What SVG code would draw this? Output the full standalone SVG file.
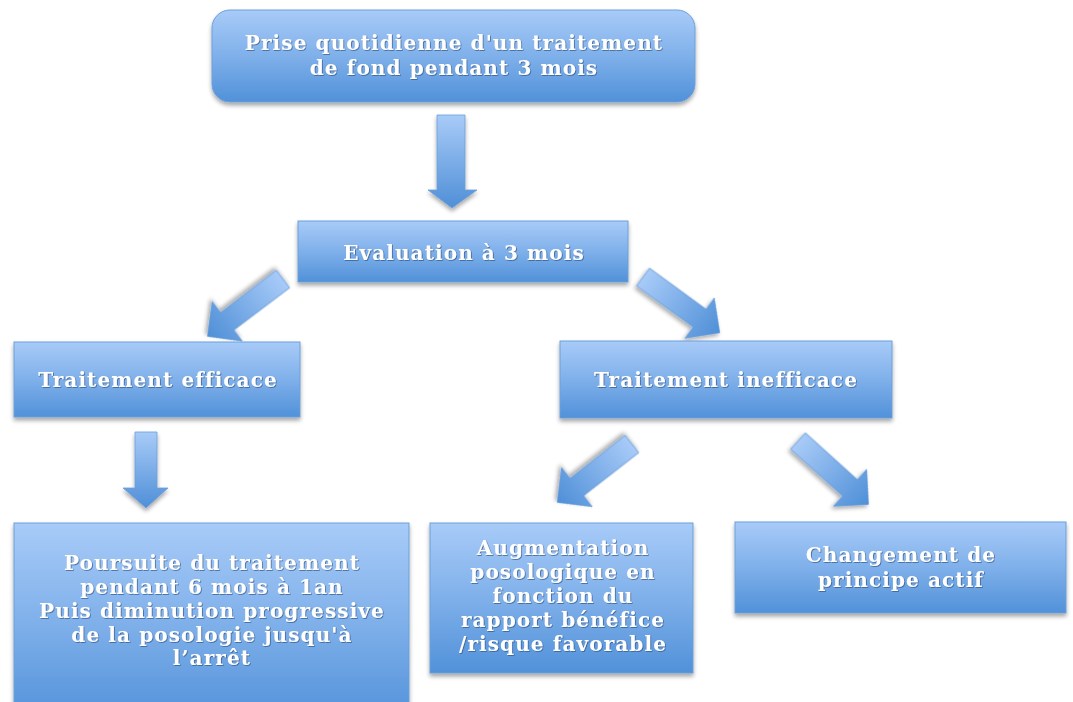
<svg xmlns="http://www.w3.org/2000/svg" width="1073" height="702" viewBox="0 0 1073 702">
<defs>
<linearGradient id="gBox" x1="0" y1="0" x2="0" y2="1">
<stop offset="0" stop-color="#a8cbf8"/>
<stop offset="0.5" stop-color="#7fb0ea"/>
<stop offset="1" stop-color="#5191d9"/>
</linearGradient>
<linearGradient id="gArrV" x1="0" y1="0" x2="0" y2="1">
<stop offset="0" stop-color="#a8cbf8"/>
<stop offset="1" stop-color="#4f8fd7"/>
</linearGradient>
<linearGradient id="gArrH" x1="0" y1="0" x2="1" y2="0">
<stop offset="0" stop-color="#a8cbf8"/>
<stop offset="1" stop-color="#4f8fd7"/>
</linearGradient>
<filter id="sh" x="-10%" y="-10%" width="120%" height="130%">
<feDropShadow dx="0" dy="3" stdDeviation="2" flood-color="#000" flood-opacity="0.35"/>
</filter>
<filter id="tsh" x="-5%" y="-20%" width="110%" height="140%">
<feDropShadow dx="0.8" dy="0.8" stdDeviation="0.7" flood-color="#2a4f80" flood-opacity="0.8"/>
</filter>
<polygon id="diag" points="0,-11 70,-11 70,-25 95,0 70,25 70,11 0,11"/>
</defs>
<style>
.box{fill:url(#gBox);stroke:#6d9fd9;stroke-width:1;filter:url(#sh)}
.arr{stroke:#6d9fd9;stroke-width:0.8;filter:url(#sh)}
text{font-family:"DejaVu Serif","Liberation Serif",serif;font-weight:bold;font-size:20px;letter-spacing:1.1px;fill:#fff;text-anchor:middle;filter:url(#tsh)}
</style>
<rect width="1073" height="702" fill="#fff"/>
<g id="connectors">
<polygon class="arr" fill="url(#gArrV)" points="437,115 465,115 465,190 477,190 452,208 428,190 437,190"/>
<polygon class="arr" fill="url(#gArrV)" points="135,432 157,432 157,488 168,488 146,508 123,488 135,488"/>
<use href="#diag" class="arr" fill="url(#gArrH)" transform="translate(283,279) rotate(142.8)"/>
<use href="#diag" class="arr" fill="url(#gArrH)" transform="translate(643,277) rotate(36)"/>
<use href="#diag" class="arr" fill="url(#gArrH)" transform="translate(632,444) rotate(142)"/>
<use href="#diag" class="arr" fill="url(#gArrH)" transform="translate(798,441) rotate(42)"/>
</g>
<g id="n1">
<rect class="box" x="212" y="10" width="483" height="92" rx="18"/>
<text x="454" y="50">Prise quotidienne d'un traitement</text>
<text x="454" y="75">de fond pendant 3 mois</text>
</g>
<g id="n2">
<rect class="box" x="298" y="221" width="330" height="61"/>
<text x="464" y="260">Evaluation à 3 mois</text>
</g>
<g id="n3">
<rect class="box" x="14" y="342" width="286" height="75"/>
<text x="158" y="387">Traitement efficace</text>
</g>
<g id="n4">
<rect class="box" x="560" y="341" width="332" height="77"/>
<text x="726" y="387">Traitement inefficace</text>
</g>
<g id="n5">
<rect class="box" x="14" y="523" width="395" height="200"/>
<text x="212" y="570">Poursuite du traitement</text>
<text x="212" y="594">pendant 6 mois à 1an</text>
<text x="212" y="618">Puis diminution progressive</text>
<text x="212" y="642">de la posologie jusqu'à</text>
<text x="212" y="665">l’arrêt</text>
</g>
<g id="n6">
<rect class="box" x="430" y="523" width="263" height="150"/>
<text x="563" y="555">Augmentation</text>
<text x="563" y="579">posologique en</text>
<text x="563" y="603">fonction du</text>
<text x="563" y="627">rapport bénéfice</text>
<text x="563" y="651">/risque favorable</text>
</g>
<g id="n7">
<rect class="box" x="735" y="522" width="331" height="91"/>
<text x="901" y="562">Changement de</text>
<text x="901" y="587">principe actif</text>
</g>
</svg>
